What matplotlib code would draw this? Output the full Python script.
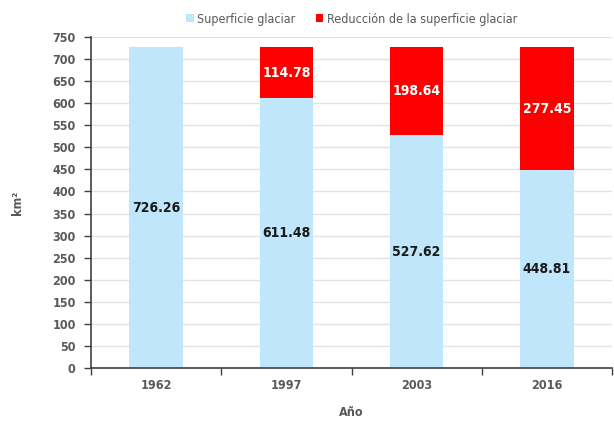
import matplotlib.pyplot as plt
import numpy as np
from matplotlib.ticker import FixedLocator

years = ["1962", "1997", "2003", "2016"]
superficie = [726.26, 611.48, 527.62, 448.81]
reduccion = [0.0, 114.78, 198.64, 277.45]

plt.rcParams["font.family"] = ["DejaVu Sans", "Liberation Sans"]
plt.rcParams["font.stretch"] = "condensed"

blue = "#BFE6FB"
red = "#FF0000"
gray = "#595959"

fig = plt.figure(figsize=(6.14, 4.23), dpi=100)
ax = fig.add_axes([0.148, 0.13, 0.849, 0.7825])

x = np.arange(len(years))
w = 0.41
ax.bar(x, superficie, w, color=blue, label="Superficie glaciar", zorder=2)
ax.bar(x[1:], reduccion[1:], w, bottom=superficie[1:], color=red,
       label="Reducción de la superficie glaciar", zorder=2)

for i, v in enumerate(superficie):
    ax.text(x[i], v / 2, f"{v:.2f}", ha="center", va="center",
            fontsize=10, fontweight="bold", color="#1a1a1a")
for i in range(1, len(years)):
    ax.text(x[i], superficie[i] + reduccion[i] / 2, f"{reduccion[i]:.2f}",
            ha="center", va="center", fontsize=10, fontweight="bold", color="white")

ax.set_xlim(-0.5, len(years) - 0.5)
ax.set_ylim(0, 750)
ax.set_yticks(np.arange(0, 751, 50))
ax.set_xticks(x)
ax.set_xticklabels(years)
ax.xaxis.set_minor_locator(FixedLocator(np.arange(-0.5, len(years), 1.0)))
ax.tick_params(axis="x", which="major", length=0, pad=8)
ax.tick_params(axis="x", which="minor", length=5, width=1, color="#404040", direction="out")
ax.tick_params(axis="y", length=5, width=1, color="#404040", direction="out", pad=6)
for lab in ax.get_xticklabels() + ax.get_yticklabels():
    lab.set_fontweight("bold")
    lab.set_color(gray)
    lab.set_fontsize(9)

ax.grid(axis="y", color="#E3E3E3", linewidth=1, zorder=0)
for s in ["top", "right"]:
    ax.spines[s].set_visible(False)
for s in ["left", "bottom"]:
    ax.spines[s].set_color("#404040")
    ax.spines[s].set_linewidth(1.2)

ax.set_xlabel("Año", fontsize=9, fontweight="bold", color=gray, labelpad=10)
ax.set_ylabel("km²", fontsize=9, fontweight="bold", color=gray, labelpad=20)

ax.legend(loc="lower center", bbox_to_anchor=(0.5, 1.0), ncol=2, frameon=False,
          fontsize=9, handlelength=0.6, handleheight=0.6, handletextpad=0.3,
          columnspacing=1.6, labelcolor=gray)

fig.savefig("out.png", dpi=100)
